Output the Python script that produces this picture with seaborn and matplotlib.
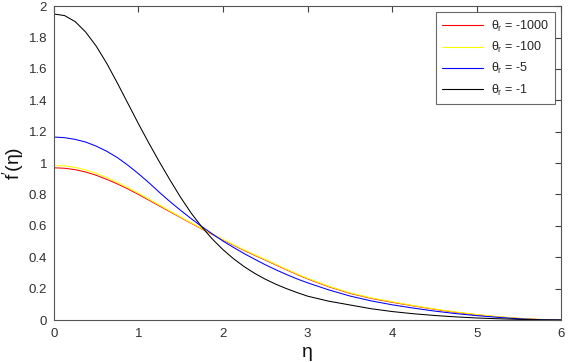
import matplotlib
matplotlib.use("Agg")
import matplotlib.pyplot as plt
import seaborn as sns
import pandas as pd

eta = [0.0, 0.125, 0.25, 0.375, 0.5, 0.625, 0.75, 0.875, 1.0, 1.125, 1.25, 1.375,
       1.5, 1.625, 1.75, 1.875, 2.0, 2.125, 2.25, 2.375, 2.5, 2.625, 2.75, 2.875,
       3.0, 3.25, 3.5, 3.75, 4.0, 4.25, 4.5, 4.75, 5.0, 5.25, 5.5, 5.75, 6.0]

f_m1000 = [0.970, 0.967, 0.958, 0.943, 0.922, 0.896, 0.867, 0.835, 0.800, 0.763, 0.726,
           0.689, 0.652, 0.616, 0.580, 0.545, 0.510, 0.476, 0.443, 0.412, 0.382, 0.351,
           0.320, 0.290, 0.262, 0.212, 0.170, 0.138, 0.113, 0.090, 0.068, 0.049, 0.033,
           0.020, 0.010, 0.003, 0.000]
f_m100 = [0.985, 0.982, 0.972, 0.956, 0.934, 0.907, 0.876, 0.843, 0.807, 0.769, 0.731,
          0.693, 0.655, 0.618, 0.582, 0.548, 0.513, 0.479, 0.446, 0.415, 0.385, 0.354,
          0.323, 0.293, 0.265, 0.215, 0.173, 0.141, 0.116, 0.092, 0.070, 0.051, 0.035,
          0.021, 0.011, 0.004, 0.000]
f_m5 = [1.166, 1.162, 1.151, 1.134, 1.108, 1.075, 1.035, 0.986, 0.932, 0.874, 0.812,
        0.753, 0.698, 0.645, 0.595, 0.548, 0.503, 0.462, 0.423, 0.387, 0.352, 0.320,
        0.290, 0.262, 0.237, 0.192, 0.153, 0.122, 0.097, 0.076, 0.057, 0.041, 0.028,
        0.017, 0.008, 0.002, 0.000]
f_m1 = [1.950, 1.940, 1.902, 1.835, 1.745, 1.635, 1.510, 1.380, 1.250, 1.125, 1.005,
        0.890, 0.780, 0.680, 0.592, 0.515, 0.448, 0.390, 0.340, 0.297, 0.260, 0.228,
        0.200, 0.175, 0.152, 0.120, 0.096, 0.072, 0.054, 0.040, 0.029, 0.020, 0.013,
        0.008, 0.004, 0.001, 0.000]

labels = [r"$\theta_r$ = -1000", r"$\theta_r$ = -100", r"$\theta_r$ = -5", r"$\theta_r$ = -1"]
series = [f_m1000, f_m100, f_m5, f_m1]
colors = ["#ff0000", "#ffff00", "#0000ff", "#000000"]

rows = []
for lab, vals in zip(labels, series):
    for x, y in zip(eta, vals):
        rows.append({"eta": x, "f": y, "case": lab})
df = pd.DataFrame(rows)

sns.set_style("white")
plt.rcParams["font.family"] = ["Liberation Sans", "DejaVu Sans"]
plt.rcParams["mathtext.fontset"] = "custom"
plt.rcParams["mathtext.rm"] = "Liberation Sans"
plt.rcParams["mathtext.it"] = "Liberation Sans"

fig = plt.figure(figsize=(5.68, 3.62), dpi=100)
ax = fig.add_axes([0.095, 0.116, 0.893, 0.867])

sns.lineplot(data=df, x="eta", y="f", hue="case", hue_order=labels,
             palette=colors, linewidth=0.75, ax=ax, sort=False)

ax.set_xlim(0, 6)
ax.set_ylim(0, 2)
ax.set_xticks(range(0, 7))
ax.set_yticks([0, 0.2, 0.4, 0.6, 0.8, 1.0, 1.2, 1.4, 1.6, 1.8, 2.0])
ax.set_yticklabels(["0", "0.2", "0.4", "0.6", "0.8", "1", "1.2", "1.4", "1.6", "1.8", "2"])
ax.tick_params(direction="in", length=4, width=0.8, colors="#404040", labelsize=9.5,
               top=True, right=True, labelcolor="#303030")
ax.tick_params(axis="x", pad=6)
ax.tick_params(axis="y", pad=5)
for s in ax.spines.values():
    s.set_color("#555555")
    s.set_linewidth(0.8)

ax.set_xlabel("η", fontsize=14, color="#111111")
ax.set_ylabel("f$'$(η)", fontsize=14, color="#111111")
ax.yaxis.set_label_coords(-0.056, 0.5)
ax.xaxis.set_label_coords(0.5, -0.075)

leg = ax.legend(loc="upper right", fontsize=9, frameon=True, fancybox=False,
                handlelength=3.3, borderaxespad=0.5, labelspacing=0.5,
                borderpad=0.5, handletextpad=0.6)
leg.get_frame().set_edgecolor("#444444")
leg.get_frame().set_linewidth(0.8)
for line, c in zip(leg.get_lines(), colors):
    line.set_linewidth(0.8)
    line.set_color(c)

fig.savefig("out.png", dpi=100)
